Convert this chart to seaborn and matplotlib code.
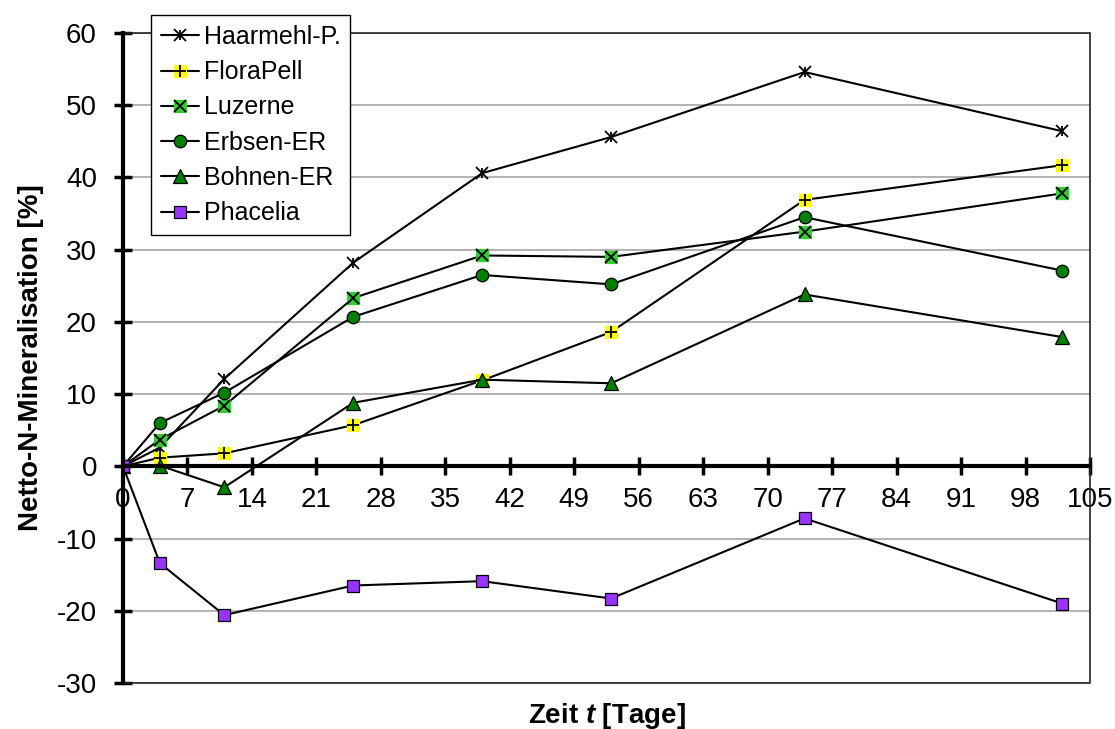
import numpy as np
import pandas as pd
import matplotlib.pyplot as plt
import seaborn as sns
from matplotlib.patches import Rectangle
from matplotlib.legend_handler import HandlerTuple

sns.set_style("white")
plt.rcParams['font.family'] = ['Liberation Sans', 'DejaVu Sans']
plt.rcParams['mathtext.fontset'] = 'custom'
plt.rcParams['mathtext.it'] = 'Liberation Sans:bold:italic'
plt.rcParams['mathtext.rm'] = 'Liberation Sans:bold'
plt.rcParams['axes.unicode_minus'] = False
plt.rcParams['text.color'] = 'black'

# --- data ---
days = [0, 4, 11, 25, 39, 53, 74, 102]
haarmehl = [0, 2.6, 12.1, 28.2, 40.6, 45.6, 54.6, 46.4]
florapell = [0, 1.2, 1.8, 5.7, 11.9, 18.6, 36.9, 41.7]
luzerne = [0, 3.7, 8.4, 23.3, 29.2, 29.0, 32.5, 37.8]
erbsen = [0, 6.0, 10.2, 20.7, 26.5, 25.2, 34.5, 27.1]
bohnen = [0, 0.1, -2.9, 8.8, 12.0, 11.5, 23.8, 17.9]
phacelia = [0, -13.4, -20.6, -16.5, -15.9, -18.3, -7.2, -19.0]

series_names = ['Haarmehl-P.', 'FloraPell', 'Luzerne', 'Erbsen-ER', 'Bohnen-ER', 'Phacelia']
series_values = [haarmehl, florapell, luzerne, erbsen, bohnen, phacelia]
x_ticks = list(range(0, 106, 7))
y_ticks = list(range(-30, 61, 10))

# marker styles: (base marker, face, edge, size, overlay glyphs)
styles = {
    'Haarmehl-P.': ('x', 'black', 'black', 8, ['|']),
    'FloraPell': ('s', '#ffff00', '#ffff00', 9, ['+']),
    'Luzerne': ('s', '#33cc33', '#33cc33', 9, ['x']),
    'Erbsen-ER': ('o', '#008000', 'black', 9, []),
    'Bohnen-ER': ('^', '#008000', 'black', 9.5, []),
    'Phacelia': ('s', '#9933ff', 'black', 8.5, []),
}

fig, ax = plt.subplots(figsize=(11.15, 7.29), dpi=100)
fig.subplots_adjust(left=0.1103, right=0.9776, top=0.9547, bottom=0.0631)

handles = []
for name, vals in zip(series_names, series_values):
    marker, fc, ec, ms, overlays = styles[name]
    sns.lineplot(x=days, y=vals, ax=ax, color='black', lw=1.5, marker=marker,
                 markersize=ms, markerfacecolor=fc, markeredgecolor=ec,
                 markeredgewidth=1.3 if marker == 'x' else 0.9, sort=False)
    parts = [ax.lines[-1]]
    for g in overlays:
        sns.lineplot(x=days, y=vals, ax=ax, color='black', linestyle='none',
                     marker=g, markersize=ms * 0.9, markeredgewidth=1.3,
                     markeredgecolor='black', sort=False)
        parts.append(ax.lines[-1])
    handles.append(tuple(parts))

ax.set_xlim(0, 105)
ax.set_ylim(-30, 60)
ax.set_xticks(x_ticks)
ax.set_yticks(y_ticks)

# axes look
ax.yaxis.grid(True, color='#a6a6a6', lw=1.2)
ax.xaxis.grid(False)
ax.set_axisbelow(True)
ax.spines['bottom'].set_position(('data', 0))
ax.spines['left'].set_linewidth(3)
ax.spines['bottom'].set_linewidth(3)
ax.spines['left'].set_color('black')
ax.spines['bottom'].set_color('black')
for s in ['top', 'right']:
    ax.spines[s].set_visible(False)
ax.add_patch(Rectangle((0, 0), 1, 1, transform=ax.transAxes, fill=False,
                       lw=1.2, edgecolor='#222222', zorder=1.5, clip_on=False))

ax.tick_params(axis='both', direction='inout', length=13.5, width=2.5,
               color='black', labelsize=20, labelcolor='black',
               bottom=True, left=True)
ax.tick_params(axis='x', pad=8)
ax.tick_params(axis='y', pad=12)

ax.set_xlabel('Zeit $t$ [Tage]', fontsize=20, fontweight='bold', color='black')
ax.xaxis.set_label_coords(0.5, -0.028)
ax.set_ylabel('Netto-N-Mineralisation [%]', fontsize=20, fontweight='bold', color='black')
ax.yaxis.set_label_coords(-0.082, 0.5)

leg = fig.legend(handles, series_names, loc='upper left',
                 bbox_to_anchor=(151 / 1115, 1 - 15 / 729), borderaxespad=0,
                 handler_map={tuple: HandlerTuple(ndivide=1)},
                 fontsize=18, frameon=True, fancybox=False, framealpha=1,
                 edgecolor='black', borderpad=0.4, handlelength=1.5,
                 handletextpad=0.2, labelspacing=0.45)
leg.get_frame().set_linewidth(1.0)
for t in leg.get_texts():
    t.set_color('black')

fig.savefig('out.png', dpi=100)
